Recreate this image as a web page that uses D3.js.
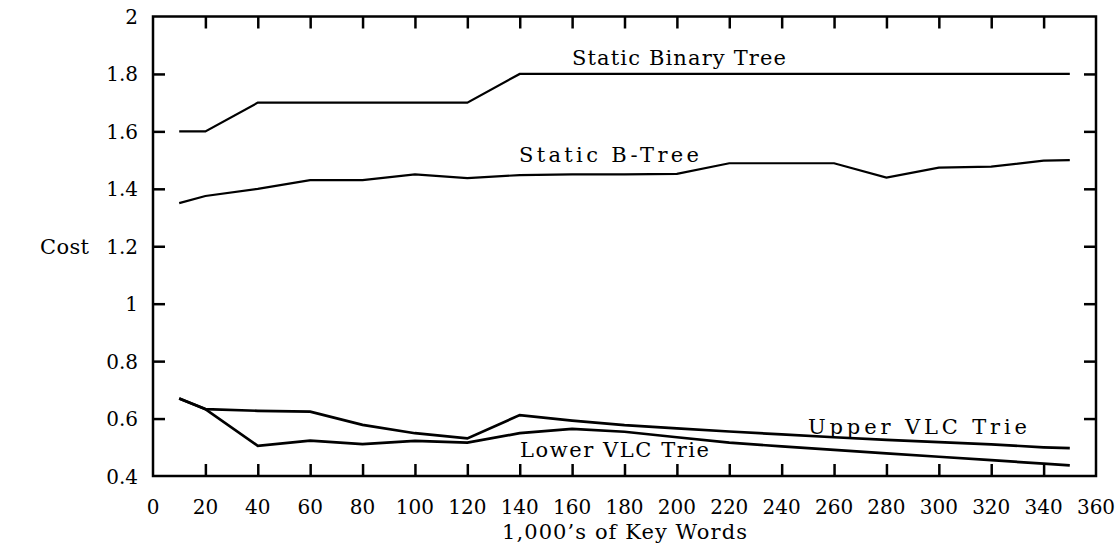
<!DOCTYPE html>
<html><head><meta charset="utf-8">
<script src="https://cdn.jsdelivr.net/npm/d3@7"></script>
<style>body{margin:0;background:#fff}svg{display:block}text{font-family:"DejaVu Serif","Liberation Serif",serif;fill:#000}</style>
</head><body><svg id="c" width="1117" height="548"></svg>
<script>
const xTicks = [0,20,40,60,80,100,120,140,160,180,200,220,240,260,280,300,320,340,360];
const yTicks = [0.4,0.6,0.8,1,1.2,1.4,1.6,1.8,2];
const binX = [10,20,40,60,80,100,120,140,160,180,200,220,240,260,280,300,320,340,350];
const binY = [1.6,1.6,1.7,1.7,1.7,1.7,1.7,1.8,1.8,1.8,1.8,1.8,1.8,1.8,1.8,1.8,1.8,1.8,1.8];
const bX = [10,20,40,60,80,100,120,140,160,180,200,220,240,260,280,300,320,340,350];
const bY = [1.35,1.375,1.4,1.43,1.43,1.45,1.437,1.448,1.45,1.45,1.452,1.489,1.489,1.489,1.439,1.474,1.477,1.498,1.5];
const upX = [10,20,40,60,80,100,120,140,160,180,200,220,240,260,280,300,320,340,350];
const upY = [0.67,0.633,0.627,0.624,0.578,0.549,0.531,0.612,0.593,0.577,0.566,0.555,0.545,0.535,0.526,0.518,0.51,0.5,0.497];
const loX = [10,20,40,60,80,100,120,140,160,180,200,220,240,260,280,300,320,340,350];
const loY = [0.67,0.633,0.505,0.523,0.511,0.522,0.516,0.549,0.564,0.554,0.535,0.516,0.503,0.491,0.479,0.467,0.455,0.443,0.437];
const seriesLabels = ["Static Binary Tree","Static B-Tree","Upper VLC Trie","Lower VLC Trie"];
const xTitle = "1,000\u2019s of Key Words";
const yTitle = "Cost";

const svg = d3.select("#c");
const L=153, R=1096, T=16.5, B=476;
const x = d3.scaleLinear().domain([0,360]).range([L,R]);
const y = d3.scaleLinear().domain([0.4,2]).range([B,T]);
const FS = 20, FS2 = 21;
const FF = "DejaVu Serif";

const g = svg.append("g");
const tl = 12;
function tickStyle(sel){ sel.select(".domain").remove(); sel.selectAll("line").attr("stroke","#000").attr("stroke-width",2.5); }
g.append("g").attr("transform",`translate(0,${B})`).call(d3.axisBottom(x).tickValues(xTicks).tickSize(-tl).tickFormat(""))
  .call(tickStyle).selectAll(".tick").filter(d=>d===0||d===360).remove();
g.append("g").attr("transform",`translate(0,${T})`).call(d3.axisTop(x).tickValues(xTicks).tickSize(-tl).tickFormat(""))
  .call(tickStyle).selectAll(".tick").filter(d=>d===0||d===360).remove();
g.append("g").attr("transform",`translate(${L},0)`).call(d3.axisLeft(y).tickValues(yTicks).tickSize(-tl).tickFormat(""))
  .call(tickStyle).selectAll(".tick").filter(d=>d===0.4||d===2).remove();
g.append("g").attr("transform",`translate(${R},0)`).call(d3.axisRight(y).tickValues(yTicks).tickSize(-tl).tickFormat(""))
  .call(tickStyle).selectAll(".tick").filter(d=>d===0.4||d===2).remove();
g.append("rect").attr("x",L).attr("y",T).attr("width",R-L).attr("height",B-T)
  .attr("fill","none").attr("stroke","#000").attr("stroke-width",2.5);

g.selectAll(".xl").data(xTicks).enter().append("text")
  .attr("x",d=>x(d)).attr("y",514).attr("text-anchor","middle").attr("font-size",FS).attr("font-family",FF)
  .text(d=>d);
g.selectAll(".yl").data(yTicks).enter().append("text")
  .attr("x",L-15).attr("y",d=>y(d)+7.5).attr("text-anchor","end").attr("font-size",FS).attr("font-family",FF)
  .text(d=>String(+d.toFixed(1)));

g.append("text").attr("x",502).attr("y",539).attr("font-size",FS2).attr("font-family",FF)
  .attr("textLength",245).attr("lengthAdjust","spacing").text(xTitle);
g.append("text").attr("x",40).attr("y",y(1.2)+7.5).attr("font-size",FS2).attr("font-family",FF)
  .attr("textLength",49).attr("lengthAdjust","spacing").text(yTitle);

const line = d3.line().x(d=>x(d[0])).y(d=>y(d[1]));
const series = [[binX,binY,2.2],[bX,bY,2.2],[upX,upY,2.7],[loX,loY,2.7]];
series.forEach(([xs,ys,w])=>{
  g.append("path").datum(xs.map((v,i)=>[v,ys[i]])).attr("d",line)
   .attr("fill","none").attr("stroke","#000").attr("stroke-width",w).attr("stroke-linejoin","miter");
});

const lab = [[572,65,214],[519,162,180],[808,434,219],[520,457,189]];
lab.forEach(([lx,ly,w],i)=>{
  g.append("text").attr("x",lx).attr("y",ly).attr("font-size",FS2).attr("font-family",FF)
   .attr("textLength",w).attr("lengthAdjust","spacing").text(seriesLabels[i]);
});
</script></body></html>
